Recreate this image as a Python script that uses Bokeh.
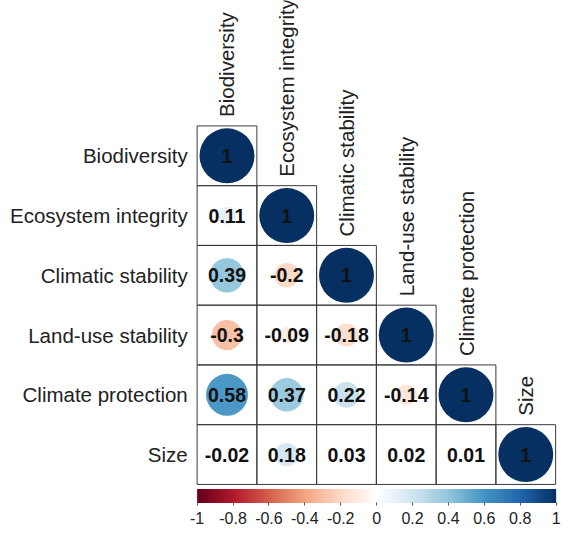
import numpy as np
from math import pi
from bokeh.plotting import figure
from bokeh.models import (Range1d, ColumnDataSource, LinearColorMapper, ColorBar,
                          FixedTicker, CustomJSTickFormatter)
from bokeh.core.properties import value
from bokeh.embed import file_html
from bokeh.resources import INLINE

# ---------------- data ----------------
variables = ["Biodiversity", "Ecosystem integrity", "Climatic stability",
             "Land-use stability", "Climate protection", "Size"]
corr_biodiversity = [1]
corr_ecosystem_integrity = [0.11, 1]
corr_climatic_stability = [0.39, -0.2, 1]
corr_land_use_stability = [-0.3, -0.09, -0.18, 1]
corr_climate_protection = [0.58, 0.37, 0.22, -0.14, 1]
corr_size = [-0.02, 0.18, 0.03, 0.02, 0.01, 1]
cbar_ticks = [-1, -0.8, -0.6, -0.4, -0.2, 0, 0.2, 0.4, 0.6, 0.8, 1]
anchor_colors = ["#67001F", "#B2182B", "#D6604D", "#F4A582", "#FDDBC7", "#FFFFFF",
                 "#D1E5F0", "#92C5DE", "#4393C3", "#2166AC", "#053061"]

rows = [corr_biodiversity, corr_ecosystem_integrity, corr_climatic_stability,
        corr_land_use_stability, corr_climate_protection, corr_size]

# ---------------- colours ----------------
_rgb = np.array([[int(c[k:k + 2], 16) for k in (1, 3, 5)] for c in anchor_colors], float)
_pos = np.linspace(0, 1, len(anchor_colors))


def to_hex(t):
    r, g, b = (np.interp(t, _pos, _rgb[:, k]) for k in range(3))
    return "#%02x%02x%02x" % (int(round(r)), int(round(g)), int(round(b)))


palette = [to_hex(t) for t in np.linspace(0, 1, 200)]

# ---------------- cells ----------------
xs, ys, vals, cols, rads, labels = [], [], [], [], [], []
for i, row in enumerate(rows):
    for j, v in enumerate(row):
        xs.append(j + 0.5)
        ys.append(-(i + 0.5))
        vals.append(v)
        cols.append(to_hex((v + 1) / 2))
        rads.append(0.46 * np.sqrt(abs(v)))
        labels.append(f"{v:g}")

src = ColumnDataSource(dict(x=xs, y=ys, v=vals, c=cols, r=rads, t=labels))

W, H = 561, 532
S = 0.97            # overall scale
CELL = 61.6 * S     # cell size in pixels
X0, Y0 = 202.7 * S, (138.3 - 9) * S   # grid top-left in pixels
p = figure(width=W, height=H,
           x_range=Range1d(-X0 / CELL, (W - X0) / CELL),
           y_range=Range1d(-(H - Y0) / CELL, Y0 / CELL),
           output_backend="svg", toolbar_location=None, min_border=0,
           x_axis_type=None, y_axis_type=None)
p.grid.visible = False
p.outline_line_color = None

p.circle(x="x", y="y", radius="r", fill_color="c", line_color=None, source=src)
p.rect(x="x", y="y", width=1, height=1, fill_color=None, line_color="#3a3a3a",
       line_width=1, source=src)
p.text(x="x", y="y", text="t", text_align="center", text_baseline="middle",
       text_font=value("Liberation Sans"), text_font_style="bold",
       text_font_size=value("19.5px"), text_color="#111111", source=src)

# row labels
n = len(variables)
p.text(x=[-0.157] * n, y=[-(i + 0.5) for i in range(n)], text=variables,
       text_align="right", text_baseline="middle",
       text_font=value("Liberation Sans"), text_font_size=value("20.5px"),
       text_color="#222222")
# column labels
p.text(x=[j + 0.5 for j in range(n)], y=[0.15 - j for j in range(n)], text=variables,
       angle=pi / 2, text_align="left", text_baseline="middle",
       text_font=value("Liberation Sans"), text_font_size=value("20.5px"),
       text_color="#222222")

# colour bar (location = box bottom-left measured from the frame bottom-left)
bar_top = Y0 + 6 * CELL + 4.7 * S
mapper = LinearColorMapper(palette=palette, low=-1, high=1)
cb = ColorBar(color_mapper=mapper, orientation="horizontal",
              location=(X0, H - bar_top - 38), width=int(round(6 * CELL)),
              height=int(round(14 * S)), padding=0,
              ticker=FixedTicker(ticks=cbar_ticks),
              formatter=CustomJSTickFormatter(code="return String(Math.round(tick*10)/10)"),
              major_tick_in=0, major_tick_out=3, major_tick_line_color="#555555",
              minor_tick_line_color=None, label_standoff=6,
              major_label_text_font="Liberation Sans", major_label_text_font_size="16px",
              major_label_text_color="#222222", bar_line_color=None,
              background_fill_alpha=0)
p.add_layout(cb, "center")

open("out.html", "w").write(file_html(p, INLINE))
